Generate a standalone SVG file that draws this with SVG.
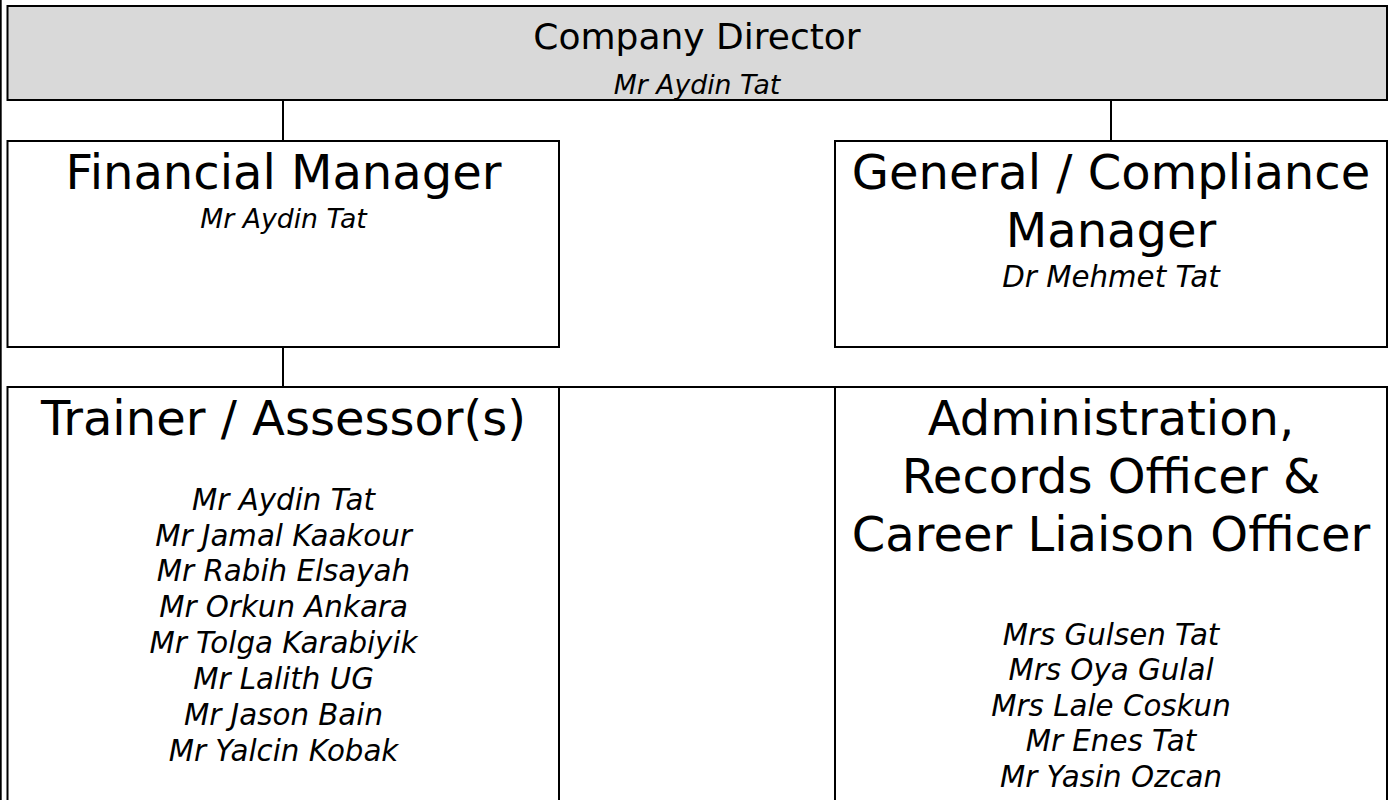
<svg xmlns="http://www.w3.org/2000/svg" width="1394" height="800" viewBox="0 0 1394 800">
<style>
.box{fill:#fff;stroke:#000;stroke-width:2}
.top{fill:#d9d9d9;stroke:#000;stroke-width:2}
.ln{stroke:#000;stroke-width:2;fill:none}
text{font-family:"DejaVu Sans",Verdana,sans-serif;fill:#000;text-anchor:middle}
.h{font-size:48px}
.t{font-size:36px}
.n{font-size:29.3px;font-style:italic}
.s{font-size:26.7px;font-style:italic}
</style>
<rect width="1394" height="800" fill="#fff"/>
<line class="ln" x1="0.7" y1="0" x2="0.7" y2="800" stroke-width="1.5"/>
<g id="connectors">
<line class="ln" x1="283" y1="100" x2="283" y2="141"/>
<line class="ln" x1="1111" y1="100" x2="1111" y2="141"/>
<line class="ln" x1="283" y1="347" x2="283" y2="387"/>
<line class="ln" x1="559" y1="387" x2="835" y2="387"/>
</g>
<g id="director">
<rect class="top" x="7.5" y="6" width="1379.5" height="94"/>
<text class="t" x="697" y="49">Company Director</text>
<text class="s" x="697" y="94">Mr Aydin Tat</text>
</g>
<g id="financial">
<rect class="box" x="7.5" y="141" width="551.5" height="206"/>
<text class="h" x="283.5" y="189">Financial Manager</text>
<text class="s" x="283.5" y="228">Mr Aydin Tat</text>
</g>
<g id="general">
<rect class="box" x="835" y="141" width="552" height="206"/>
<text class="h" x="1111" y="189">General / Compliance</text>
<text class="h" x="1111" y="247">Manager</text>
<text class="n" x="1111" y="287">Dr Mehmet Tat</text>
</g>
<g id="trainer">
<rect class="box" x="7.5" y="387" width="551.5" height="420"/>
<text class="h" x="283.5" y="435">Trainer / Assessor(s)</text>
<text class="n" x="283.5" y="510">Mr Aydin Tat</text>
<text class="n" x="283.5" y="546">Mr Jamal Kaakour</text>
<text class="n" x="283.5" y="581">Mr Rabih Elsayah</text>
<text class="n" x="283.5" y="617">Mr Orkun Ankara</text>
<text class="n" x="283.5" y="653">Mr Tolga Karabiyik</text>
<text class="n" x="283.5" y="689">Mr Lalith UG</text>
<text class="n" x="283.5" y="725">Mr Jason Bain</text>
<text class="n" x="283.5" y="761">Mr Yalcin Kobak</text>
</g>
<g id="admin">
<rect class="box" x="835" y="387" width="552" height="420"/>
<text class="h" x="1111" y="435">Administration,</text>
<text class="h" x="1111" y="493">Records Officer &amp;</text>
<text class="h" x="1111" y="551">Career Liaison Officer</text>
<text class="n" x="1111" y="645">Mrs Gulsen Tat</text>
<text class="n" x="1111" y="680">Mrs Oya Gulal</text>
<text class="n" x="1111" y="716">Mrs Lale Coskun</text>
<text class="n" x="1111" y="751">Mr Enes Tat</text>
<text class="n" x="1111" y="787">Mr Yasin Ozcan</text>
</g>
</svg>
